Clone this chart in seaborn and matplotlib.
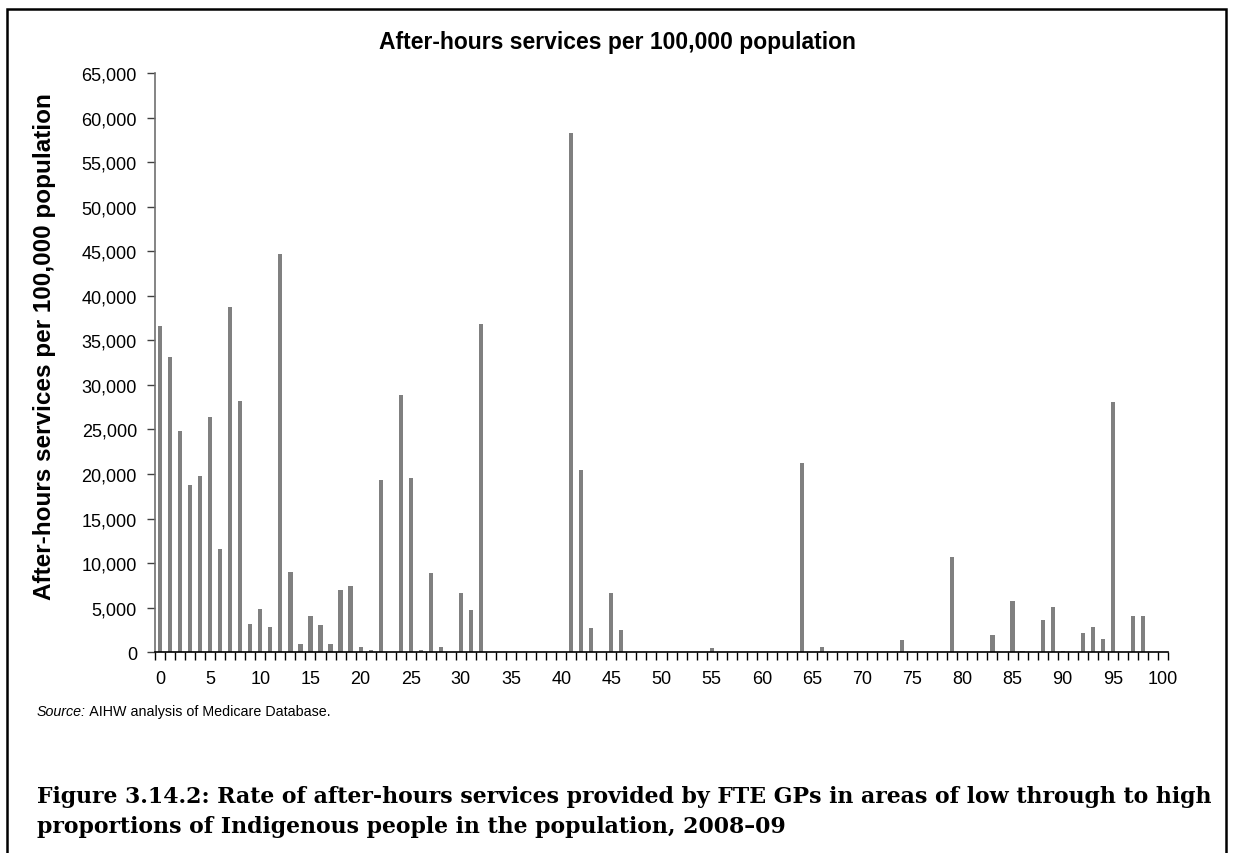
import matplotlib
matplotlib.use("Agg")
import matplotlib.pyplot as plt
from matplotlib.patches import Rectangle
from matplotlib.ticker import FuncFormatter, FixedLocator
import seaborn as sns
import pandas as pd

# Percentile of Indigenous population (categories 0..100)
categories = list(range(0, 101))

# After-hours services per 100,000 population
values = [
    36600, 33150, 24850, 18750, 19750, 26400, 11600, 38800, 28200, 3150,   # 0-9
    4870, 2850, 44700, 9000, 900, 4100, 3100, 950, 7000, 7450,             # 10-19
    600, 260, 19350, 0, 28850, 19550, 260, 8900, 600, 0,                   # 20-29
    6630, 4720, 36800, 0, 50, 0, 0, 0, 0, 30,                              # 30-39
    0, 58230, 20400, 2770, 0, 6700, 2550, 0, 0, 0,                         # 40-49
    0, 0, 0, 0, 0, 520, 0, 0, 0, 0,                                        # 50-59
    0, 0, 0, 0, 21240, 0, 640, 0, 0, 0,                                    # 60-69
    0, 0, 0, 0, 1390, 0, 0, 0, 0, 10700,                                   # 70-79
    0, 0, 0, 1990, 0, 5800, 100, 0, 3670, 5090,                            # 80-89
    110, 0, 2130, 2850, 1460, 28050, 0, 4120, 4080, 0,                     # 90-99
    0,                                                                     # 100
]

x_tick_labels = [str(v) for v in range(0, 101, 5)]
y_ticks = list(range(0, 65001, 5000))

title = "After-hours services per 100,000 population"
ylabel = "After-hours services per 100,000 population"
source_label = "Source:"
source_text = " AIHW analysis of Medicare Database."
caption_lines = [
    "Figure 3.14.2: Rate of after-hours services provided by FTE GPs in areas of low through to high",
    "proportions of Indigenous people in the population, 2008\u201309",
]

df = pd.DataFrame({"cat": categories, "val": values})

sns.set_theme(style="white")
plt.rcParams["font.family"] = ["Liberation Sans", "DejaVu Sans"]
plt.rcParams["text.color"] = "black"
plt.rcParams["axes.labelcolor"] = "black"
plt.rcParams["xtick.color"] = "black"
plt.rcParams["ytick.color"] = "black"

fig = plt.figure(figsize=(12.34, 8.54), dpi=100)
W, H = 1234, 854
ax = fig.add_axes([155 / W, 1 - 653.3 / H, (1168 - 155) / W, (653.3 - 74) / H])

sns.barplot(data=df, x="cat", y="val", order=categories, color="#808080",
            saturation=1, width=0.42, ax=ax, linewidth=0)

ax.set_xlim(-0.5, 100.5)
ax.set_ylim(0, 65000)

# y axis
ax.yaxis.set_major_locator(FixedLocator(y_ticks))
ax.yaxis.set_major_formatter(FuncFormatter(lambda v, p: f"{int(v):,}"))
ax.tick_params(axis="y", which="major", length=6, width=1, color="#404040",
               labelsize=13, pad=7, left=True, labelcolor="black")

# x axis: labels at bar centres, tick marks between categories
ax.xaxis.set_major_locator(FixedLocator(list(range(0, 101, 5))))
ax.set_xticklabels(x_tick_labels)
ax.xaxis.set_minor_locator(FixedLocator([i - 0.5 for i in range(0, 102)]))
ax.tick_params(axis="x", which="major", length=0, labelsize=13, pad=13,
               labelcolor="black")
ax.tick_params(axis="x", which="minor", length=6, width=1, color="black",
               bottom=True, direction="out")

for s in ["top", "right"]:
    ax.spines[s].set_visible(False)
ax.spines["bottom"].set_color("black")
ax.spines["bottom"].set_linewidth(1.2)
ax.spines["left"].set_color("#707070")
ax.spines["left"].set_linewidth(1.2)

ax.set_xlabel("")
ax.set_ylabel(ylabel, fontsize=17.5, fontweight="bold")
ax.yaxis.set_label_coords(-99 / (1168 - 155), (653.3 - 347) / (653.3 - 74))

fig.text(617 / W, 1 - 42 / H, title, ha="center", va="center",
         fontsize=16.5, fontweight="bold")

# Source note
t1 = fig.text(37 / W, 1 - 712 / H, source_label, ha="left", va="center",
              fontsize=10.3, style="italic")
fig.canvas.draw()
bb = t1.get_window_extent()
fig.text(bb.x1 / W, 1 - 712 / H, source_text, ha="left", va="center", fontsize=10.3)

# Caption
fig.text(37 / W, 1 - 797 / H, caption_lines[0], ha="left", va="center",
         fontsize=15.8, fontweight="bold", family=["DejaVu Serif"])
fig.text(37 / W, 1 - 827 / H, caption_lines[1], ha="left", va="center",
         fontsize=15.8, fontweight="bold", family=["DejaVu Serif"])

# Frame around the figure
fig.patches.append(Rectangle((7 / W, -0.05), (1226 - 7) / W, 1.05 - 10 / H,
                             transform=fig.transFigure, fill=False,
                             edgecolor="black", linewidth=1.8))

fig.savefig("out.png", dpi=100)
